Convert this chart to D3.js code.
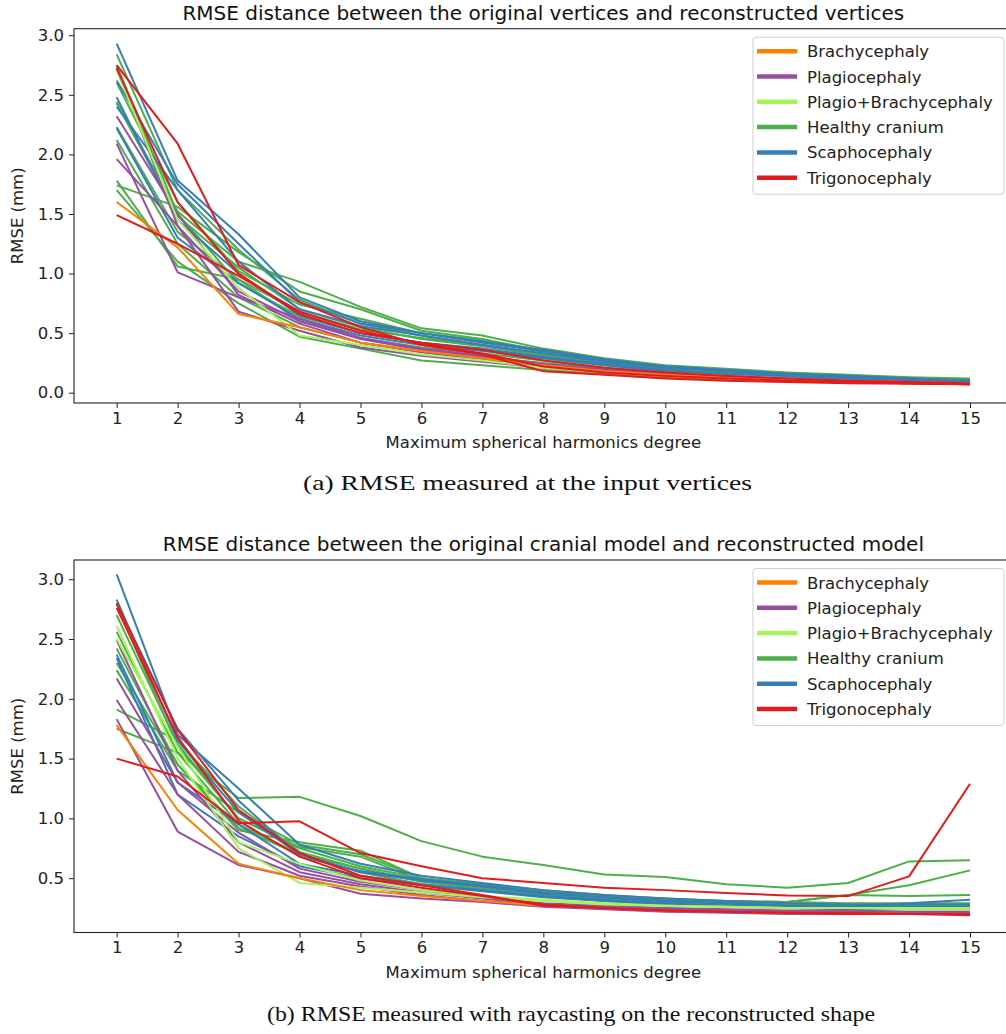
<!DOCTYPE html>
<html><head><meta charset="utf-8">
<script src="https://cdn.jsdelivr.net/npm/d3@7"></script>
<style>body{margin:0;background:#fff;} svg{display:block;}</style>
</head><body>
<svg id="chart" width="1006" height="1034"></svg>
<script>
const degrees = [1,2,3,4,5,6,7,8,9,10,11,12,13,14,15];
const categories = ["Brachycephaly","Plagiocephaly","Plagio+Brachycephaly","Healthy cranium","Scaphocephaly","Trigonocephaly"];
const categoryColors = ["#ff7f00","#984ea3","#a3f55a","#4daf4a","#377eb8","#e41a1c"];
const yTicksA = [0.0,0.5,1.0,1.5,2.0,2.5,3.0];
const yTicksB = [0.5,1.0,1.5,2.0,2.5,3.0];

// Panel (a): RMSE at input vertices. Each entry: [category index, values per degree]
const seriesA = [
  [3,[2.84,1.70,1.20,0.78,0.58,0.48,0.40,0.32,0.26,0.21,0.18,0.15,0.13,0.12,0.10]],
  [3,[2.44,1.52,1.10,0.93,0.72,0.54,0.48,0.37,0.29,0.23,0.20,0.17,0.15,0.13,0.12]],
  [3,[2.43,1.48,1.05,0.70,0.55,0.45,0.39,0.31,0.25,0.20,0.17,0.15,0.13,0.12,0.10]],
  [3,[2.23,1.35,0.95,0.68,0.53,0.46,0.40,0.33,0.26,0.21,0.18,0.15,0.13,0.12,0.10]],
  [3,[2.12,1.25,0.80,0.55,0.42,0.35,0.30,0.25,0.20,0.16,0.14,0.12,0.11,0.10,0.09]],
  [3,[1.78,1.06,0.95,0.60,0.46,0.38,0.33,0.27,0.21,0.17,0.14,0.12,0.11,0.10,0.09]],
  [3,[1.74,1.56,1.18,0.85,0.70,0.52,0.45,0.35,0.27,0.22,0.19,0.16,0.14,0.12,0.11]],
  [3,[1.70,1.10,0.75,0.47,0.37,0.27,0.23,0.19,0.16,0.13,0.11,0.10,0.09,0.08,0.07]],
  [3,[2.60,1.60,1.02,0.74,0.62,0.50,0.44,0.34,0.27,0.22,0.19,0.16,0.14,0.12,0.11]],
  [3,[2.75,1.50,0.92,0.64,0.50,0.42,0.36,0.29,0.23,0.19,0.16,0.14,0.12,0.11,0.10]],
  [4,[2.93,1.78,1.33,0.80,0.60,0.50,0.42,0.35,0.27,0.22,0.19,0.16,0.14,0.12,0.10]],
  [4,[2.62,1.75,1.25,0.76,0.58,0.50,0.43,0.36,0.28,0.22,0.19,0.16,0.14,0.12,0.10]],
  [4,[2.48,1.45,1.00,0.65,0.50,0.42,0.37,0.30,0.24,0.19,0.16,0.14,0.12,0.11,0.09]],
  [4,[2.22,1.30,0.92,0.62,0.48,0.40,0.35,0.29,0.23,0.18,0.16,0.14,0.12,0.10,0.09]],
  [4,[2.40,1.70,1.10,0.70,0.56,0.48,0.40,0.33,0.26,0.21,0.18,0.15,0.13,0.12,0.10]],
  [1,[2.73,1.40,0.85,0.60,0.45,0.36,0.30,0.24,0.19,0.16,0.13,0.11,0.10,0.09,0.08]],
  [1,[2.32,1.50,0.82,0.58,0.42,0.34,0.28,0.22,0.18,0.15,0.12,0.11,0.10,0.09,0.08]],
  [1,[2.09,1.01,0.80,0.62,0.46,0.37,0.31,0.24,0.19,0.15,0.13,0.11,0.10,0.09,0.08]],
  [1,[1.96,1.40,0.68,0.52,0.38,0.31,0.26,0.21,0.17,0.14,0.12,0.10,0.09,0.08,0.07]],
  [2,[2.71,1.45,0.88,0.48,0.40,0.32,0.27,0.21,0.17,0.14,0.12,0.10,0.09,0.08,0.08]],
  [0,[1.60,1.22,0.66,0.55,0.42,0.35,0.29,0.23,0.18,0.15,0.13,0.11,0.10,0.09,0.08]],
  [5,[2.72,1.60,1.00,0.66,0.50,0.42,0.36,0.27,0.21,0.17,0.14,0.12,0.10,0.09,0.08]],
  [5,[1.49,1.25,0.98,0.68,0.52,0.41,0.33,0.22,0.17,0.14,0.12,0.10,0.09,0.08,0.07]],
  [5,[2.75,2.09,1.07,0.76,0.55,0.40,0.32,0.18,0.15,0.12,0.10,0.09,0.08,0.075,0.07]]
];

// Panel (b): RMSE with raycasting
const seriesB = [
  [3,[2.79,1.60,1.00,0.75,0.60,0.50,0.45,0.40,0.36,0.33,0.31,0.30,0.29,0.29,0.29]],
  [3,[2.56,1.55,0.95,0.70,0.58,0.48,0.42,0.37,0.33,0.30,0.29,0.30,0.36,0.44,0.565]],
  [3,[2.42,1.45,0.90,0.80,0.73,0.50,0.44,0.39,0.35,0.32,0.31,0.30,0.36,0.35,0.36]],
  [3,[2.24,1.40,1.05,0.78,0.70,0.50,0.43,0.38,0.34,0.31,0.29,0.28,0.27,0.27,0.26]],
  [3,[1.91,1.65,1.10,0.72,0.58,0.47,0.41,0.36,0.33,0.30,0.28,0.27,0.26,0.26,0.26]],
  [3,[2.70,1.62,1.00,0.76,0.68,0.48,0.42,0.37,0.34,0.31,0.29,0.28,0.27,0.27,0.27]],
  [3,[2.30,1.45,0.92,0.70,0.55,0.45,0.40,0.35,0.31,0.28,0.27,0.26,0.26,0.26,0.25]],
  [3,[1.75,1.55,1.17,1.18,1.02,0.81,0.68,0.61,0.53,0.51,0.45,0.42,0.46,0.64,0.65]],
  [4,[3.04,1.70,1.25,0.78,0.62,0.52,0.46,0.40,0.36,0.33,0.31,0.29,0.28,0.28,0.28]],
  [4,[2.83,1.65,1.05,0.70,0.55,0.48,0.43,0.37,0.34,0.31,0.29,0.27,0.26,0.29,0.32]],
  [4,[2.37,1.30,0.95,0.62,0.52,0.45,0.40,0.35,0.32,0.29,0.27,0.26,0.25,0.25,0.25]],
  [4,[2.34,1.20,0.85,0.60,0.50,0.44,0.39,0.34,0.31,0.28,0.26,0.25,0.24,0.24,0.24]],
  [4,[2.80,1.75,1.15,0.68,0.56,0.49,0.44,0.38,0.34,0.31,0.29,0.27,0.26,0.26,0.26]],
  [1,[2.49,1.40,0.80,0.55,0.45,0.38,0.33,0.28,0.26,0.24,0.23,0.22,0.22,0.21,0.21]],
  [1,[2.17,1.30,0.88,0.58,0.47,0.40,0.34,0.29,0.27,0.25,0.24,0.23,0.23,0.22,0.22]],
  [1,[1.99,1.20,0.72,0.52,0.43,0.36,0.31,0.27,0.25,0.23,0.22,0.21,0.21,0.21,0.21]],
  [1,[1.83,0.89,0.61,0.50,0.37,0.33,0.30,0.26,0.24,0.22,0.21,0.20,0.20,0.20,0.20]],
  [2,[2.61,1.50,0.75,0.46,0.42,0.38,0.34,0.31,0.28,0.27,0.26,0.25,0.25,0.25,0.25]],
  [2,[2.50,1.60,0.80,0.62,0.48,0.40,0.35,0.32,0.29,0.27,0.26,0.25,0.25,0.24,0.24]],
  [0,[1.78,1.07,0.62,0.50,0.40,0.35,0.31,0.27,0.25,0.23,0.22,0.21,0.21,0.20,0.20]],
  [5,[2.80,1.74,1.07,0.71,0.52,0.44,0.36,0.27,0.25,0.23,0.22,0.21,0.21,0.20,0.20]],
  [5,[2.76,1.68,0.98,0.68,0.50,0.42,0.35,0.28,0.25,0.23,0.22,0.21,0.20,0.20,0.19]],
  [5,[1.50,1.35,0.96,0.975,0.71,0.60,0.50,0.46,0.42,0.40,0.376,0.356,0.35,0.515,1.29]]
];

const titles = ["RMSE distance between the original vertices and reconstructed vertices",
                "RMSE distance between the original cranial model and reconstructed model"];
const captions = ["(a) RMSE measured at the input vertices",
                  "(b) RMSE measured with raycasting on the reconstructed shape"];
const xLabel = "Maximum spherical harmonics degree";
const yLabel = "RMSE (mm)";

const svg = d3.select("#chart");
const FONT = "'DejaVu Sans', sans-serif";
const FS = 16.5;

function panel(cfg){
  const g = svg.append("g");
  const x = d3.scaleLinear().domain([0.3,15.7]).range([cfg.left, cfg.right]);
  const y = d3.scaleLinear().domain(cfg.ydom).range([cfg.bottom, cfg.top]);

  // lines
  const line = d3.line().x((d,i)=>x(degrees[i])).y(d=>y(d));
  g.append("g").selectAll("path").data(cfg.series).join("path")
    .attr("d", d=>line(d[1]))
    .attr("fill","none")
    .attr("stroke", d=>categoryColors[d[0]])
    .attr("stroke-width",2)
    .attr("stroke-linejoin","round")
    .attr("stroke-linecap","butt");

  // axes
  const xAxis = d3.axisBottom(x).tickValues(degrees).tickFormat(d3.format("d")).tickSize(5).tickPadding(4);
  const gx = g.append("g").attr("transform",`translate(0,${cfg.bottom})`).call(xAxis);
  const yAxis = d3.axisLeft(y).tickValues(cfg.yticks).tickFormat(d3.format(".1f")).tickSize(5).tickPadding(5);
  const gy = g.append("g").attr("transform",`translate(${cfg.left},0)`).call(yAxis);
  [gx,gy].forEach(a=>{
    a.select(".domain").remove();
    a.selectAll("line").attr("stroke","#222").attr("stroke-width",1);
    a.selectAll("text").attr("font-family",FONT).attr("font-size",FS).attr("fill","#222");
  });
  // frame (spines)
  g.append("rect").attr("x",cfg.left).attr("y",cfg.top)
    .attr("width",cfg.right-cfg.left).attr("height",cfg.bottom-cfg.top)
    .attr("fill","none").attr("stroke","#222").attr("stroke-width",1.1);

  // title
  g.append("text").attr("x",(cfg.left+cfg.right)/2).attr("y",cfg.top-9)
    .attr("text-anchor","middle").attr("font-family",FONT).attr("font-size",20).attr("fill","#111")
    .text(cfg.title);
  // x label
  g.append("text").attr("x",(cfg.left+cfg.right)/2).attr("y",cfg.bottom+45)
    .attr("text-anchor","middle").attr("font-family",FONT).attr("font-size",FS).attr("fill","#222")
    .text(xLabel);
  // y label
  g.append("text").attr("transform",`translate(23,${(cfg.top+cfg.bottom)/2}) rotate(-90)`)
    .attr("text-anchor","middle").attr("font-family",FONT).attr("font-size",FS).attr("fill","#222")
    .text(yLabel);

  // legend
  const lg = g.append("g");
  lg.append("rect").attr("x",753).attr("y",cfg.top+8.5).attr("width",251).attr("height",157)
    .attr("rx",3).attr("fill","#fff").attr("fill-opacity",0.8).attr("stroke","#d0d0d0");
  categories.forEach((c,i)=>{
    const cy = cfg.top+22.5+i*25.3;
    lg.append("line").attr("x1",757).attr("x2",797).attr("y1",cy).attr("y2",cy)
      .attr("stroke",categoryColors[i]).attr("stroke-width",4.5);
    lg.append("text").attr("x",807).attr("y",cy+6).attr("font-family",FONT).attr("font-size",FS)
      .attr("fill","#222").text(c);
  });

  // caption
  svg.append("text").attr("x",cfg.capX).attr("y",cfg.capY).attr("text-anchor","middle")
    .attr("font-family","'Liberation Serif','DejaVu Serif',serif").attr("font-size",22).attr("fill","#111")
    .attr("textLength",cfg.capLen).attr("lengthAdjust","spacingAndGlyphs")
    .text(cfg.caption);
}

panel({series:seriesA, left:74, right:1012.7, top:28.7, bottom:403, ydom:[-0.0865,3.055], yticks:yTicksA,
       title:titles[0], caption:captions[0], capX:527.5, capY:490, capLen:449});
panel({series:seriesB, left:74, right:1012.7, top:560, bottom:932.5, ydom:[0.0456,3.161], yticks:yTicksB,
       title:titles[1], caption:captions[1], capX:571, capY:1021, capLen:608});
</script>
</body></html>
